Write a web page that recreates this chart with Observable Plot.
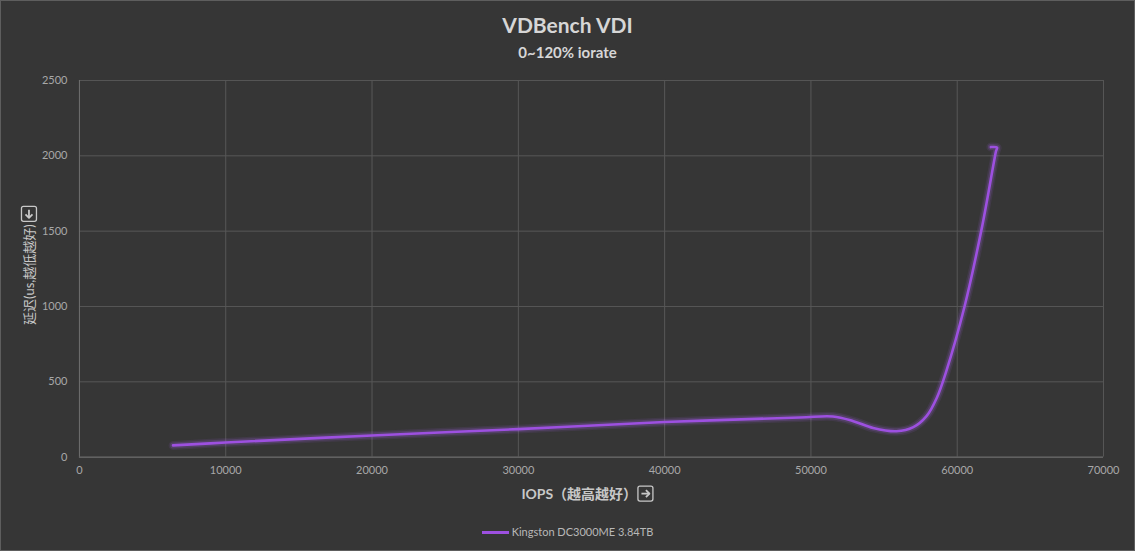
<!DOCTYPE html>
<html><head><meta charset="utf-8">
<script src="https://cdn.jsdelivr.net/npm/d3@7"></script>
<script src="https://cdn.jsdelivr.net/npm/@observablehq/plot@0.6"></script>
<style>
html,body{margin:0;padding:0;background:#363636;}
#chart{position:relative;width:1133px;height:549px;border:1px solid #5e5e5e;background:#363636;font-family:Lato,"Noto Sans CJK SC",sans-serif;overflow:hidden;}
#title{position:absolute;left:0;top:11px;width:100%;text-align:center;font-size:21px;font-weight:bold;color:#d6d6d6;line-height:26px;}
#subtitle{position:absolute;left:0;top:41px;width:100%;text-align:center;font-size:15px;font-weight:bold;color:#d6d6d6;line-height:20px;}
#plot{position:absolute;left:-1px;top:61px;}
#legend{position:absolute;left:0;top:523px;width:100%;text-align:center;font-size:11px;color:#b8b8b8;line-height:16px;}
#legend .sw{display:inline-block;width:27px;height:3px;background:#9d50e0;vertical-align:middle;margin-right:3px;position:relative;top:-1px;}
</style>
</head><body>
<div id="chart">
  <div id="title">VDBench VDI</div>
  <div id="subtitle">0~120% iorate</div>
  <div id="plot"></div>
  <div id="legend"><span class="sw"></span><span id="seriesName"></span></div>
</div>
<script>
const seriesName = "Kingston DC3000ME 3.84TB";
const iops    = [6400, 10000, 20000, 30000, 40000, 49250, 51500, 52900, 54250, 55850, 57000, 57900, 58600, 59250, 60500, 61700, 62650, 62720, 62300];
const latency = [78,   97,    144,   186,   233,   263,   270,   239,   194,   172,   199,   272,   393,   570,   1000,  1530,  2030,  2055,  2058];
const xTicks = [0, 10000, 20000, 30000, 40000, 50000, 60000, 70000];
const yTicks = [0, 500, 1000, 1500, 2000, 2500];
const xLabel = "IOPS（越高越好）";
const yLabel = "延迟(us,越低越好)";

document.getElementById("seriesName").textContent = seriesName;
const data = iops.map((x, i) => ({x, y: latency[i]}));
const FONT = "Lato, 'Noto Sans CJK SC', sans-serif";
const BOX = 15;

// axis titles (text ending just before a boxed arrow), placed from the plot's own dimensions
function axisTitles(index, scales, values, dim) {
  const g = d3.create("svg:g").attr("font-family", FONT);
  const fx0 = dim.marginLeft, fx1 = dim.width - dim.marginRight;
  const fy0 = dim.marginTop, fy1 = dim.height - dim.marginBottom;

  function box(gg, bx, by, dir) {
    const b = gg.append("g").attr("stroke", "#c8c8c8").attr("fill", "none");
    b.append("rect").attr("x", bx).attr("y", by).attr("width", BOX).attr("height", BOX).attr("rx", 2).attr("stroke-width", 1.3);
    const cx = bx + BOX / 2, cy = by + BOX / 2, s = dir;
    b.append("path").attr("d", `M${cx - 4 * s},${cy}L${cx + 4 * s},${cy}`).attr("stroke-width", 1.8);
    b.append("path").attr("d", `M${cx + 0.5 * s},${cy - 3.5}L${cx + 4 * s},${cy}L${cx + 0.5 * s},${cy + 3.5}`)
      .attr("stroke-width", 1.8).attr("stroke-linejoin", "round");
  }

  // x title
  {
    const xc = (fx0 + fx1) / 2, yc = fy1 + 37;
    g.append("text").attr("x", xc + 46).attr("y", yc).attr("dy", "0.35em").attr("font-size", 14)
      .attr("text-anchor", "end").attr("font-weight", "bold").attr("fill", "#c8c8c8").text(xLabel);
    box(g, xc + 47, yc - BOX / 2, 1);
  }
  // y title (rotated)
  {
    const gy = g.append("g").attr("transform", `translate(${fx0 - 50},${(fy0 + fy1) / 2}) rotate(-90)`);
    gy.append("text").attr("x", 44).attr("y", 0).attr("dy", "0.35em").attr("font-size", 13)
      .attr("text-anchor", "end").attr("fill", "#c8c8c8").text(yLabel);
    box(gy, 47, -BOX / 2, -1);
  }
  return g.node();
}

const plot = Plot.plot({
  width: 1135, height: 443,
  marginTop: 18, marginBottom: 48, marginLeft: 79, marginRight: 31,
  style: {background: "transparent", color: "#a8a8a8", fontSize: "11px", fontFamily: FONT},
  x: {domain: [0, 70000]},
  y: {domain: [0, 2500]},
  marks: [
    Plot.gridX(xTicks, {stroke: "#575757", strokeOpacity: 1}),
    Plot.gridY(yTicks, {stroke: "#575757", strokeOpacity: 1}),
    Plot.ruleX([0], {stroke: "#6e6e6e"}),
    Plot.ruleY([0], {stroke: "#6e6e6e"}),
    Plot.line(data, {x: "x", y: "y", curve: "catmull-rom", stroke: "#a862f0", strokeWidth: 9, strokeOpacity: 0.1}),
    Plot.line(data, {x: "x", y: "y", curve: "catmull-rom", stroke: "#a862f0", strokeWidth: 6, strokeOpacity: 0.18}),
    Plot.line(data, {x: "x", y: "y", curve: "catmull-rom", stroke: "#9d50e0", strokeWidth: 2.6}),
    Plot.axisX(xTicks, {tickSize: 0, tickPadding: 9, tickFormat: d => String(d), label: null, fill: "#a8a8a8"}),
    Plot.axisY(yTicks, {tickSize: 0, tickPadding: 12, tickFormat: d => String(d), label: null, fill: "#a8a8a8"}),
    axisTitles
  ]
});

document.getElementById("plot").appendChild(plot);
</script>
</body></html>
